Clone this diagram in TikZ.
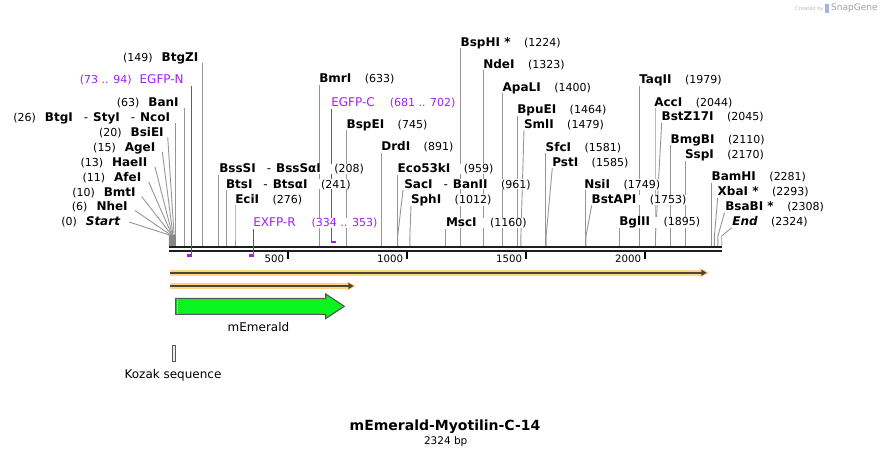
\documentclass[tikz,border=0pt]{standalone}
\usepackage{fontspec}
\setmainfont{DejaVu Sans}
\usetikzlibrary{backgrounds}
\definecolor{ln}{RGB}{150,150,150}
\definecolor{pur}{RGB}{160,32,240}
\definecolor{bbc}{RGB}{30,30,30}
\definecolor{orl}{RGB}{255,212,138}
\definecolor{ord}{RGB}{80,68,52}
\definecolor{grn}{RGB}{10,245,30}
\definecolor{gout}{RGB}{85,85,85}
\newcommand\Fn{\fontsize{12}{14}\selectfont\bfseries}
\newcommand\Fd{\fontsize{11}{13}\selectfont\mdseries}
\newcommand\Ff{\fontsize{12}{14}\selectfont\mdseries}
\newcommand\Ft{\fontsize{10.2}{12}\selectfont\mdseries}
\newcommand\enz[2]{{\Fn #1}\hspace{13.5pt}{\Fd(#2)}}
\newcommand\enzl[2]{{\Fd(#1)}\hspace{9pt}{\Fn #2}}
\newcommand\hy{\hspace{11pt}{\mdseries -}\hspace{5pt}}
\newcommand\EnzL[7]{%
  \node[lab,anchor=base east] (#1) at (#2,#3) {#7};
  \coordinate (#1-a) at (#4,#5);
  \coordinate (#1-k) at (#6,235);
  \coordinate (#1-b) at (#6,246);
  \begin{pgfonlayer}{background}\draw[site] (#1-a) -- (#1-k) -- (#1-b);\end{pgfonlayer}}
\newcommand\EnzR[6]{%
  \node[lab,anchor=base west] (#1) at (#2,#3) {#6};
  \coordinate (#1-a) at (#4,#3+2);
  \coordinate (#1-k) at (#5,236);
  \coordinate (#1-b) at (#5,246);
  \begin{pgfonlayer}{background}\draw[site] (#1-a) -- (#1-k) -- (#1-b);\end{pgfonlayer}}
\begin{document}
\begin{tikzpicture}[x=1pt,y=-1pt,
  lab/.style={inner sep=0pt,outer sep=0pt,text=black,fill=white},
  plab/.style={inner sep=0pt,outer sep=0pt,text=pur,fill=white},
  site/.style={draw=ln,line width=0.9pt},
  prim/.style={draw=pur,line width=1.2pt},
  tick/.style={draw=black,line width=2pt}]
\useasboundingbox (0,0) rectangle (892,456);

% left cluster
\fill[ln!90!black] (169,235) rectangle (175.5,246);
\EnzL{start}{120}{225.3}{129}{222}{169.3}{{\Fd(0)}\hspace{9pt}{\Fn\itshape Start}}
\EnzL{nhei}{127.7}{210.7}{135}{210.5}{170.7}{\enzl{6}{NheI}}
\EnzL{bmti}{135.7}{196}{141.7}{196.7}{171.7}{\enzl{10}{BmtI}}
\EnzL{afei}{141.3}{181}{148.7}{182}{171.9}{\enzl{11}{AfeI}}
\EnzL{haeii}{147.3}{166}{155}{167}{172.4}{\enzl{13}{HaeII}}
\EnzL{agei}{155.3}{151}{162.3}{152}{172.9}{\enzl{15}{AgeI}}
\EnzL{bsiei}{163.7}{136}{167.7}{137}{174.1}{\enzl{20}{BsiEI}}
\EnzL{ncoi}{170}{121.3}{175.5}{123.3}{175.5}{{\Fd(26)}\hspace{9pt}{\Fn BtgI\hy StyI\hy NcoI}}
\EnzL{bani}{178.7}{106}{184.3}{108.3}{184.3}{\enzl{63}{BanI}}
\EnzL{btgzi}{198.3}{61}{202.5}{63}{202.5}{\enzl{149}{BtgZI}}

% right labels
\EnzR{bsssi}{219.3}{172.7}{218.8}{218.8}{\enz{BssSI\hy BssSαI}{208}}
\EnzR{btsi}{226}{188}{226.4}{226.4}{\enz{BtsI\hy BtsαI}{241}}
\EnzR{ecii}{235.3}{203.3}{235}{235}{\enz{EciI}{276}}
\EnzR{bmri}{319.3}{82.7}{319.6}{319.6}{\enz{BmrI}{633}}
\EnzR{bspei}{346.7}{128}{346.4}{346.4}{\enz{BspEI}{745}}
\EnzR{drdi}{381.3}{150.7}{381.1}{381.1}{\enz{DrdI}{891}}
\EnzR{ecoi}{397.7}{172.7}{397.3}{397.3}{\enz{Eco53kI}{959}}
\EnzR{saci}{404.3}{188}{403}{397.7}{\enz{SacI\hy BanII}{961}}
\EnzR{sphi}{411}{203.3}{411}{409.9}{\enz{SphI}{1012}}
\EnzR{msci}{446}{226.7}{445.2}{445.2}{\enz{MscI}{1160}}
\EnzR{bsphi}{460.7}{46}{460.3}{460.3}{\enz{BspHI *}{1224}}
\EnzR{ndei}{483.3}{68}{483.8}{483.8}{\enz{NdeI}{1323}}
\EnzR{apali}{502.7}{91}{502.1}{502.1}{\enz{ApaLI}{1400}}
\EnzR{bpuei}{517.3}{113.3}{517.3}{517.3}{\enz{BpuEI}{1464}}
\EnzR{smli}{524}{128}{524}{520.9}{\enz{SmlI}{1479}}
\EnzR{sfci}{545.7}{151}{545.1}{545.1}{\enz{SfcI}{1581}}
\EnzR{psti}{552.3}{166}{552.3}{546.1}{\enz{PstI}{1585}}
\EnzR{nsii}{584.3}{188.3}{585.1}{585.1}{\enz{NsiI}{1749}}
\EnzR{bstapi}{591.7}{203.3}{591.7}{586}{\enz{BstAPI}{1753}}
\EnzR{bglii}{619.3}{225.7}{619.7}{619.7}{\enz{BglII}{1895}}
\EnzR{taqii}{639.3}{83.3}{639.7}{639.7}{\enz{TaqII}{1979}}
\EnzR{acci}{654.3}{106}{655}{655}{\enz{AccI}{2044}}
\EnzR{bstz}{661.7}{120.7}{661.7}{655.5}{\enz{BstZ17I}{2045}}
\EnzR{bmgbi}{670.7}{143.3}{670.9}{670.9}{\enz{BmgBI}{2110}}
\EnzR{sspi}{685}{158.3}{685.1}{685.1}{\enz{SspI}{2170}}
\EnzR{bamhi}{711.7}{180.7}{711.5}{711.5}{\enz{BamHI}{2281}}
\EnzR{xbai}{717.7}{195.7}{717.7}{714.4}{\enz{XbaI *}{2293}}
\EnzR{bsabi}{725.3}{210.7}{724.5}{717.9}{\enz{BsaBI *}{2308}}
\EnzR{endx}{732.3}{225.7}{731.7}{721.7}{{\Fn\itshape End}\hspace{13.5pt}{\Fd(2324)}}

% backbone
\coordinate (bbL) at (169,247.2);
\coordinate (bbR) at (722,247.2);
\draw[bbc,line width=2.3pt] (bbL) -- (bbR);
\draw[bbc,line width=2.1pt] ([yshift=-3.9pt]bbL) -- ([yshift=-3.9pt]bbR);
\foreach \x/\t in {288/500,407/1000,526/1500,645/2000}{
  \draw[tick] (\x,252) -- (\x,259);
  \node[lab,anchor=base east,font=\Ft] (t\t) at (\x-4,262.7) {\t};}

% primers
\node[plab,anchor=base east] (egfpn) at (183.7,83) {{\Fd(73 .. 94)}\hspace{8pt}{\Ff EGFP-N}};
\coordinate (egfpn-a) at (191.6,86);
\coordinate (egfpn-b) at (191.6,256.5);
\draw[prim] (egfpn-a) -- (egfpn-b);
\fill[pur] (186.7,254.4) rectangle (192.2,256.6);

\node[plab,anchor=base west] (egfpc) at (331.3,106) {{\Ff EGFP-C}\hspace{15pt}{\Fd(681 .. 702)}};
\coordinate (egfpc-a) at (331.6,108.5);
\coordinate (egfpc-b) at (331.6,243.3);
\begin{pgfonlayer}{background}\draw[prim] (egfpc-a) -- (egfpc-b);\end{pgfonlayer}
\fill[pur] (331,241.2) rectangle (336.3,243.4);

\node[plab,anchor=base west] (exfpr) at (253.3,226.7) {{\Ff EXFP-R}\hspace{16pt}{\Fd(334 .. 353)}};
\coordinate (exfpr-a) at (253.3,229);
\coordinate (exfpr-b) at (253.3,256.5);
\draw[prim] (exfpr-a) -- (exfpr-b);
\fill[pur] (248.7,254.4) rectangle (253.9,256.6);

% ORF arrows
\coordinate (o1a) at (169.5,272.8);
\coordinate (o1b) at (701,272.8);
\draw[orl,line width=5.6pt] (o1a) -- (o1b);
\fill[orl] (699.5,267.8) -- (709,272.8) -- (699.5,277.8) -- cycle;
\draw[ord,line width=2pt] (o1a) -- (702,272.8);
\fill[ord] (701.3,269.6) -- (706.6,272.8) -- (701.3,276) -- cycle;

\coordinate (o2a) at (169.5,286);
\coordinate (o2b) at (348,286);
\draw[orl,line width=5.6pt] (o2a) -- (o2b);
\fill[orl] (346.5,281) -- (356,286) -- (346.5,291) -- cycle;
\draw[ord,line width=2pt] (o2a) -- (349,286);
\fill[ord] (348.3,282.8) -- (353.6,286) -- (348.3,289.2) -- cycle;

% mEmerald
\filldraw[fill=grn,draw=gout,line width=1.1pt,line join=miter]
  (175.7,298.3) -- (325.7,298.3) -- (325.7,294) -- (344.3,306.3) -- (325.7,318.6) -- (325.7,314.3) -- (175.7,314.3) -- cycle;
\draw[white,line width=0.9pt,dash pattern=on 1pt off 1pt] (177.6,299) -- (177.6,314);
\node[lab,font=\Ff,anchor=base] (mem) at (258.5,331.5) {mEmerald};

% Kozak
\filldraw[fill=gray!15,draw=gray!70!black,line width=0.7pt] (172.5,345.5) rectangle (175,361.5);
\node[lab,font=\Ff,anchor=base] (koz) at (173,378) {Kozak sequence};

% title
\node[lab,anchor=base] (title) at (445,430.5) {\fontsize{14}{16}\selectfont\bfseries mEmerald-Myotilin-C-14};
\node[lab,anchor=base] (bp) at (445.7,444.5) {\fontsize{10.5}{12}\selectfont 2324 bp};

% watermark
\node[inner sep=0pt,anchor=base west,text=gray!55] (cr) at (795,10.5) {\fontsize{5.2}{6}\selectfont Created by};
\fill[cyan!35!blue!35] (825,3.5) rectangle (828.5,12.5);
\node[inner sep=0pt,anchor=base west,text=gray!75] (sg) at (831,10.5) {\fontsize{9}{10}\selectfont SnapGene};
\end{tikzpicture}
\end{document}
